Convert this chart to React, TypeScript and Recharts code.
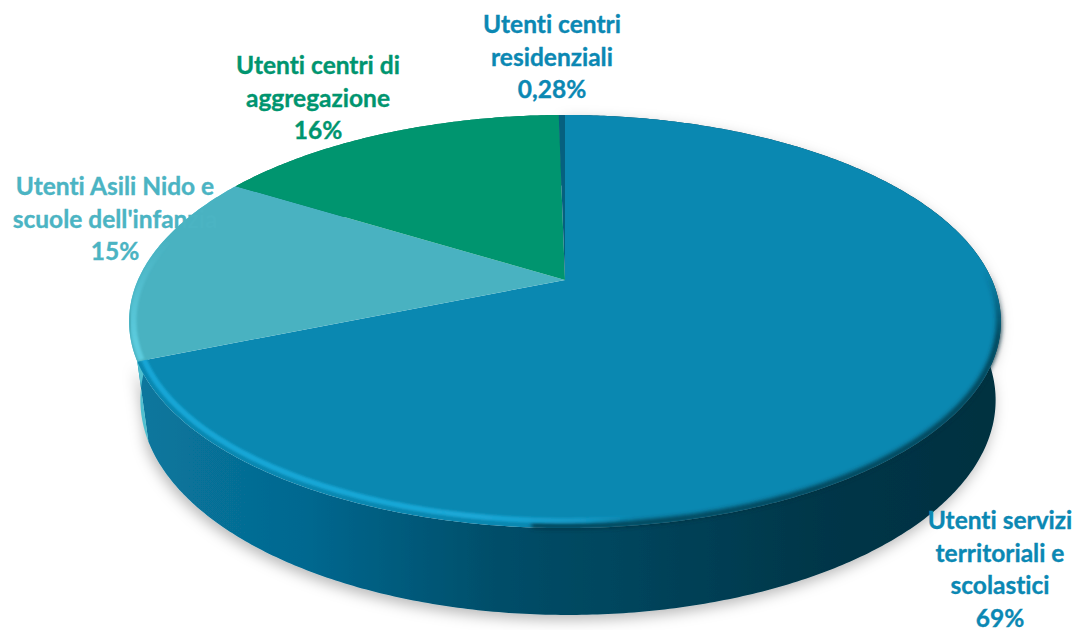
import React from "react";
import { PieChart, Pie } from "recharts";

const categories = [
  "Utenti servizi territoriali e scolastici",
  "Utenti Asili Nido e scuole dell'infanzia",
  "Utenti centri di aggregazione",
  "Utenti centri residenziali",
];
const values = [69, 15, 16, 0.28];
const percentLabels = ["69%", "15%", "16%", "0,28%"];
const labelLines = [
  ["Utenti servizi", "territoriali e", "scolastici"],
  ["Utenti Asili Nido e", "scuole dell'infanzia"],
  ["Utenti centri di", "aggregazione"],
  ["Utenti centri", "residenziali"],
];
const faceColors = ["#0a88b1", "#49b2c1", "#00956f", "#06607f"];
const wallColors = ["url(#wallMain)", "#4fc0d0", "#007a5a", "#034a62"];
const labelColors = ["#0b88b3", "#4bb4c3", "#00956f", "#0b88b3"];
const labelAnchors = [
  { x: 1000, y: 529 },
  { x: 115, y: 195 },
  { x: 318, y: 74 },
  { x: 552, y: 33 },
];

const data = categories.map((name, i) => ({ name, value: values[i] }));

const CX = 565;
const CY = 280;
const RADIUS = 427;
const K = 0.201;
const Y_SCALE = 198.2 / 427;

// projective mapping of the pie's own polar angle on to the tilted disc
const project = (
  cx: number,
  cy: number,
  r: number,
  yScale: number,
  theta: number
) => {
  const u = Math.sin(theta);
  const v = Math.cos(theta);
  const d = 1 + K * v;
  return [cx + (r * u) / d, cy - (r * yScale * v) / d];
};
const toTheta = (deg: number) => ((90 - deg) * Math.PI) / 180;

const arcPoints = (
  cx: number,
  cy: number,
  r: number,
  yScale: number,
  a0: number,
  a1: number
) => {
  const n = Math.max(2, Math.ceil(Math.abs(a1 - a0) / 0.01));
  const out: number[][] = [];
  for (let i = 0; i <= n; i++) {
    out.push(project(cx, cy, r, yScale, a0 + ((a1 - a0) * i) / n));
  }
  return out;
};
const toPath = (pts: number[][]) =>
  pts.map((p, i) => `${i ? "L" : "M"}${p[0].toFixed(2)} ${p[1].toFixed(2)}`).join("");

const indexOf = (p: any) => categories.indexOf(p.name ?? p.payload?.name);

const WallShape = (p: any) => {
  const i = indexOf(p);
  const a0 = toTheta(p.startAngle);
  const a1 = toTheta(p.endAngle);
  const ratio = p.outerRadius / RADIUS;
  const top = arcPoints(p.cx, p.cy, p.outerRadius, Y_SCALE, a0, a1);
  const bottom = arcPoints(
    p.cx + 3 * ratio,
    p.cy + 77 * ratio,
    p.outerRadius * 0.981,
    Y_SCALE * 1.06,
    a1,
    a0
  );
  return (
    <path
      d={toPath(top.concat(bottom)) + "Z"}
      fill={wallColors[i]}
      filter={i === 0 ? "url(#dropShadow)" : undefined}
    />
  );
};

const FaceShape = (p: any) => {
  const i = indexOf(p);
  const a0 = toTheta(p.startAngle);
  const a1 = toTheta(p.endAngle);
  const edge = arcPoints(p.cx, p.cy, p.outerRadius, Y_SCALE, a0, a1);
  const d = `M${p.cx} ${p.cy}` + toPath(edge).replace("M", "L") + "Z";
  const rimPath = (from: number, to: number, scale: number) =>
    toPath(arcPoints(p.cx, p.cy, p.outerRadius * scale, Y_SCALE * scale, from, to));
  return (
    <g>
      <path d={d} fill={faceColors[i]} />
      {i === 0 && (
        <>
          <path
            d={rimPath((70 * Math.PI) / 180, Math.PI * 1.02, 0.996)}
            fill="none"
            stroke="url(#rimDark)"
            strokeWidth={6}
            filter="url(#softer)"
          />
          <path
            d={rimPath(Math.PI * 0.92, a1, 0.985)}
            fill="none"
            stroke="url(#rimMain)"
            strokeWidth={5.5}
            filter="url(#soften)"
          />
        </>
      )}
      {i === 1 && (
        <path
          d={rimPath(a0, a0 + (a1 - a0) * 0.7, 0.99)}
          fill="none"
          stroke="url(#rimCyan)"
          strokeWidth={6}
          filter="url(#soften)"
        />
      )}
    </g>
  );
};

const makeLabel = (wanted: number[]) => (p: any) => {
  const i = p.index;
  if (!wanted.includes(i)) return <g />;
  const a = labelAnchors[i];
  const lines = labelLines[i].concat(percentLabels[i]);
  return (
    <text
      x={a.x}
      y={a.y}
      textAnchor="middle"
      fill={labelColors[i]}
      stroke={labelColors[i]}
      strokeWidth={0.35}
      fontFamily="Lato, sans-serif"
      fontWeight={700}
      fontSize={24.5}
      style={{ fontVariantLigatures: "none" }}
    >
      {lines.map((l, j) => (
        <tspan key={j} x={a.x} y={a.y + j * 32.5}>
          {l}
        </tspan>
      ))}
    </text>
  );
};

const pieProps = {
  data,
  dataKey: "value",
  nameKey: "name",
  cx: CX,
  cy: CY,
  innerRadius: 0,
  outerRadius: RADIUS,
  startAngle: 90,
  endAngle: -270,
  paddingAngle: 0,
  stroke: "none",
  isAnimationActive: false,
  labelLine: false,
};

export default function App() {
  return (
    <div style={{ position: "absolute", left: 0, top: 0, width: 1079, height: 630, background: "#fff" }}>
      <PieChart width={1079} height={630} margin={{ top: 0, right: 0, bottom: 0, left: 0 }}>
        <defs>
          <linearGradient id="wallMain" gradientUnits="userSpaceOnUse" x1="130" y1="0" x2="1000" y2="0">
            <stop offset="0" stopColor="#08789e" />
            <stop offset="0.2" stopColor="#056890" />
            <stop offset="0.42" stopColor="#024e69" />
            <stop offset="0.6" stopColor="#03435a" />
            <stop offset="0.8" stopColor="#033648" />
            <stop offset="1" stopColor="#033040" />
          </linearGradient>
          <linearGradient id="rimMain" gradientUnits="userSpaceOnUse" x1="130" y1="0" x2="1000" y2="0">
            <stop offset="0" stopColor="#18a6d6" />
            <stop offset="0.4" stopColor="#1aa7d6" />
            <stop offset="0.52" stopColor="#1aa7d6" stopOpacity="0.6" />
            <stop offset="0.58" stopColor="#1aa7d6" stopOpacity="0" />
          </linearGradient>
          <linearGradient id="rimDark" gradientUnits="userSpaceOnUse" x1="0" y1="270" x2="0" y2="335">
            <stop offset="0" stopColor="#03303f" stopOpacity="0" />
            <stop offset="1" stopColor="#03303f" stopOpacity="0.8" />
          </linearGradient>
          <linearGradient id="rimCyan" gradientUnits="userSpaceOnUse" x1="0" y1="240" x2="0" y2="340">
            <stop offset="0" stopColor="#5bcbdd" stopOpacity="0" />
            <stop offset="1" stopColor="#5bcbdd" />
          </linearGradient>
          <filter id="soften" x="-5%" y="-5%" width="110%" height="110%">
            <feGaussianBlur stdDeviation="1.3" />
          </filter>
          <filter id="softer" x="-5%" y="-5%" width="110%" height="110%">
            <feGaussianBlur stdDeviation="2" />
          </filter>
          <filter id="dropShadow" x="-5%" y="-5%" width="110%" height="115%">
            <feDropShadow dx="-2" dy="5" stdDeviation="7" floodColor="#000" floodOpacity="0.28" />
          </filter>
        </defs>
        <Pie {...pieProps} shape={() => <g />} label={makeLabel([1])} />
        <Pie {...pieProps} shape={WallShape} label={false} />
        <Pie {...pieProps} shape={FaceShape} label={makeLabel([0, 2, 3])} />
      </PieChart>
    </div>
  );
}
